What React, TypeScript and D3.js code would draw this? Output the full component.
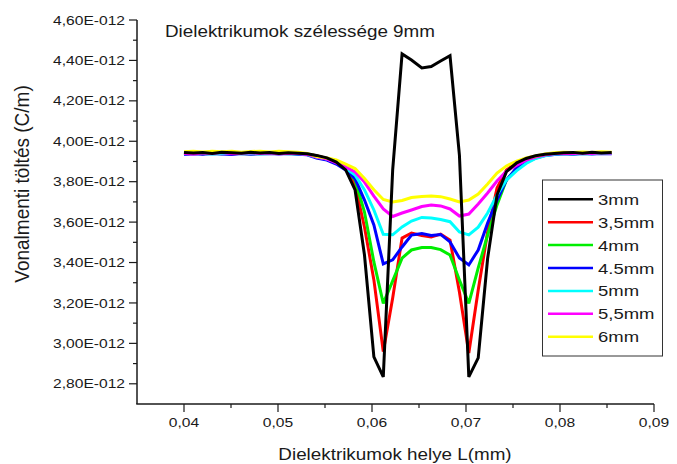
import React from 'react';
import * as d3 from 'd3';

const xValues = [
  0.0400, 0.0410, 0.0420, 0.0430, 0.0440, 0.0451, 0.0461, 0.0471, 0.0481, 0.0491,
  0.0501, 0.0511, 0.0521, 0.0531, 0.0541, 0.0552, 0.0562, 0.0572, 0.0582, 0.0592,
  0.0602, 0.0612, 0.0622, 0.0632, 0.0642, 0.0653, 0.0663, 0.0673, 0.0683, 0.0693,
  0.0703, 0.0713, 0.0723, 0.0733, 0.0743, 0.0754, 0.0764, 0.0774, 0.0784, 0.0794,
  0.0804, 0.0814, 0.0824, 0.0834, 0.0844, 0.0855,
];

const s3mm = [
  3.945, 3.942, 3.944, 3.940, 3.946, 3.943, 3.941, 3.945, 3.942, 3.944, 3.940, 3.943, 3.941, 3.938,
  3.930, 3.918, 3.897, 3.858, 3.759, 3.437, 2.933, 2.834, 3.858, 4.432,
  4.402, 4.363, 4.370, 4.397, 4.423, 3.932, 2.834, 2.928, 3.420, 3.734,
  3.850, 3.893, 3.915, 3.928, 3.936,
  3.940, 3.943, 3.945, 3.941, 3.946, 3.942, 3.944,
];
const s35mm = [
  3.940, 3.943, 3.938, 3.942, 3.939, 3.944, 3.940, 3.937, 3.941, 3.943, 3.939, 3.942, 3.940, 3.936,
  3.928, 3.915, 3.897, 3.873, 3.784, 3.576, 3.314, 2.959, 3.225, 3.521,
  3.546, 3.534, 3.526, 3.541, 3.511, 3.254, 2.952, 3.264, 3.551, 3.769,
  3.858, 3.893, 3.912, 3.925, 3.934,
  3.938, 3.941, 3.937, 3.942, 3.939, 3.943, 3.940,
];
const s4mm = [
  3.942, 3.939, 3.944, 3.941, 3.938, 3.943, 3.940, 3.942, 3.939, 3.941, 3.944, 3.940, 3.938, 3.937,
  3.927, 3.914, 3.895, 3.868, 3.808, 3.650, 3.403, 3.198, 3.309, 3.422,
  3.462, 3.474, 3.474, 3.464, 3.437, 3.314, 3.198, 3.373, 3.536, 3.685,
  3.808, 3.868, 3.902, 3.920, 3.931,
  3.937, 3.940, 3.942, 3.939, 3.943, 3.940, 3.942,
];
const s45mm = [
  3.935, 3.938, 3.936, 3.940, 3.937, 3.935, 3.939, 3.936, 3.938, 3.940, 3.937, 3.939, 3.936, 3.933,
  3.917, 3.907, 3.887, 3.858, 3.815, 3.709, 3.586, 3.393, 3.413, 3.477,
  3.536, 3.544, 3.534, 3.539, 3.502, 3.422, 3.388, 3.462, 3.596, 3.709,
  3.808, 3.868, 3.897, 3.917, 3.929,
  3.935, 3.938, 3.936, 3.939, 3.937, 3.940, 3.938,
];
const s5mm = [
  3.938, 3.941, 3.939, 3.937, 3.940, 3.942, 3.938, 3.940, 3.937, 3.939, 3.941, 3.938, 3.940, 3.934,
  3.922, 3.912, 3.897, 3.868, 3.833, 3.759, 3.660, 3.540, 3.537, 3.576,
  3.605, 3.623, 3.620, 3.613, 3.602, 3.551, 3.537, 3.575, 3.645, 3.734,
  3.808, 3.855, 3.890, 3.915, 3.928,
  3.936, 3.939, 3.937, 3.940, 3.938, 3.941, 3.939,
];
const s55mm = [
  3.940, 3.937, 3.942, 3.939, 3.944, 3.938, 3.941, 3.943, 3.939, 3.942, 3.938, 3.941, 3.939, 3.935,
  3.922, 3.912, 3.893, 3.873, 3.848, 3.798, 3.729, 3.665, 3.628, 3.645,
  3.660, 3.677, 3.685, 3.680, 3.665, 3.630, 3.640, 3.690, 3.744, 3.803,
  3.852, 3.882, 3.907, 3.922, 3.932,
  3.938, 3.941, 3.939, 3.942, 3.940, 3.943, 3.941,
];
const s6mm = [
  3.948, 3.950, 3.947, 3.951, 3.948, 3.950, 3.946, 3.949, 3.951, 3.947, 3.950, 3.948, 3.946, 3.940,
  3.925, 3.917, 3.907, 3.887, 3.865, 3.816, 3.760, 3.712, 3.700, 3.707,
  3.722, 3.727, 3.729, 3.726, 3.714, 3.700, 3.709, 3.739, 3.789, 3.843,
  3.878, 3.902, 3.917, 3.927, 3.937,
  3.943, 3.946, 3.944, 3.947, 3.945, 3.948, 3.946,
];

const seriesNames = ['3mm', '3,5mm', '4mm', '4.5mm', '5mm', '5,5mm', '6mm'];
const seriesValues = [s3mm, s35mm, s4mm, s45mm, s5mm, s55mm, s6mm];
const seriesColors = ['#000000', '#ff0000', '#00ee00', '#0000ff', '#00ffff', '#ff00ff', '#ffff00'];
const drawOrder = [1, 2, 3, 4, 5, 6, 0];

const yMajorTicks = [2.8, 3.0, 3.2, 3.4, 3.6, 3.8, 4.0, 4.2, 4.4, 4.6];
const yMinorTicks = [2.9, 3.1, 3.3, 3.5, 3.7, 3.9, 4.1, 4.3, 4.5];
const xMajorTicks = [0.04, 0.05, 0.06, 0.07, 0.08, 0.09];
const xMinorTicks = [0.045, 0.055, 0.065, 0.075, 0.085];

const titleText = 'Dielektrikumok szélessége 9mm';
const xLabel = 'Dielektrikumok helye L(mm)';
const yLabel = 'Vonalmenti töltés (C/m)';

const W = 677;
const H = 464;
const SX = 1.2;
const FONT = '"Liberation Sans", Arial, Helvetica, sans-serif';
const INK = '#1a1a1a';

export default function App() {
  const x = d3.scaleLinear().domain([0.035, 0.09]).range([137, 654]);
  const y = d3.scaleLinear().domain([2.7, 4.6]).range([404, 20]);
  const line = d3
    .line<number>()
    .x((_, i) => x(xValues[i]))
    .y((d) => y(d));

  const fmtY = (v: number) => v.toFixed(2).replace('.', ',') + 'E-012';
  const fmtX = (v: number) => v.toFixed(2).replace('.', ',');

  const legendX = 542.5;
  const legendY = 180;
  const legendW = 120;
  const legendH = 176;
  const rowH = 22.9;

  return (
    <svg
      width={W}
      height={H}
      style={{ position: 'absolute', left: 0, top: 0, background: '#fff' }}
      fontFamily={FONT}
    >
      <rect x={0} y={0} width={W} height={H} fill="#fff" />

      {drawOrder.map((si) => (
        <path
          key={si}
          d={line(seriesValues[si]) || ''}
          fill="none"
          stroke={seriesColors[si]}
          strokeWidth={3}
          strokeLinejoin="miter"
          strokeMiterlimit={3}
        />
      ))}

      {/* axes */}
      <line x1={x(0.035)} x2={x(0.035)} y1={y(4.6)} y2={y(2.7)} stroke={INK} strokeWidth={1.5} />
      <line x1={x(0.035) - 0.75} x2={x(0.09)} y1={y(2.7)} y2={y(2.7)} stroke={INK} strokeWidth={1.5} />

      {yMajorTicks.map((t) => (
        <g key={'ym' + t}>
          <line x1={x(0.035) - 8} x2={x(0.035)} y1={y(t)} y2={y(t)} stroke={INK} strokeWidth={1.2} />
          <text
            transform={`translate(${x(0.035) - 12},${y(t) + 4.6}) scale(${SX},1)`}
            textAnchor="end"
            fontSize={13}
            fill={INK}
          >
            {fmtY(t)}
          </text>
        </g>
      ))}
      {yMinorTicks.map((t) => (
        <line key={'yn' + t} x1={x(0.035) - 4} x2={x(0.035)} y1={y(t)} y2={y(t)} stroke={INK} strokeWidth={1.2} />
      ))}

      {xMajorTicks.map((t) => (
        <g key={'xm' + t}>
          <line x1={x(t)} x2={x(t)} y1={y(2.7)} y2={y(2.7) + 8} stroke={INK} strokeWidth={1.2} />
          <text
            transform={`translate(${x(t)},${426.5}) scale(${SX},1)`}
            textAnchor="middle"
            fontSize={13}
            fill={INK}
          >
            {fmtX(t)}
          </text>
        </g>
      ))}
      {xMinorTicks.map((t) => (
        <line key={'xn' + t} x1={x(t)} x2={x(t)} y1={y(2.7)} y2={y(2.7) + 4} stroke={INK} strokeWidth={1.2} />
      ))}

      {/* title & labels */}
      <text transform={`translate(165,37) scale(${SX},1)`} fontSize={15.7} fill={INK}>
        {titleText}
      </text>
      <text transform={`translate(395,460) scale(${SX},1)`} textAnchor="middle" fontSize={15.7} fill={INK}>
        {xLabel}
      </text>
      <text
        transform={`translate(28.5,184) rotate(-90) scale(1,1.1)`}
        textAnchor="middle"
        fontSize={19}
        fill={INK}
      >
        {yLabel}
      </text>

      {/* legend */}
      <rect x={legendX} y={legendY} width={legendW} height={legendH} fill="#fff" stroke="#333" strokeWidth={1} />
      {seriesNames.map((name, i) => {
        const cy = legendY + 19.3 + i * rowH;
        return (
          <g key={name}>
            <line x1={548} x2={593} y1={cy} y2={cy} stroke={seriesColors[i]} strokeWidth={2.5} />
            <text transform={`translate(598,${cy + 5.5}) scale(${SX},1)`} fontSize={15.4} fill={INK}>
              {name}
            </text>
          </g>
        );
      })}
    </svg>
  );
}
